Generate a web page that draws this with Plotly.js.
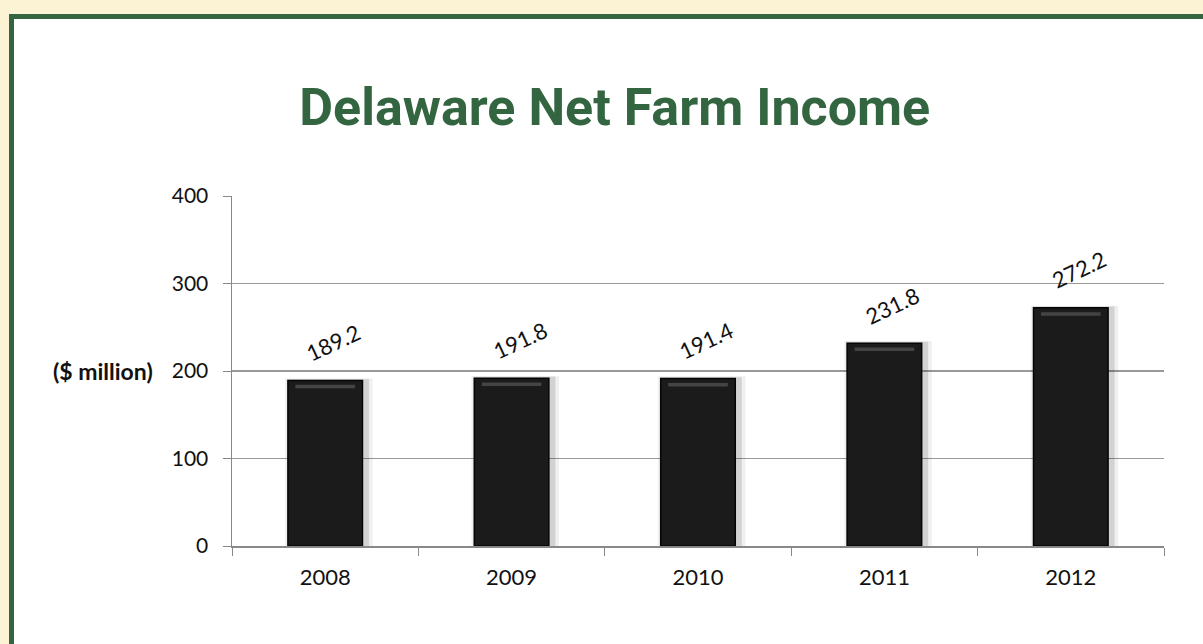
<!DOCTYPE html>
<html><head><meta charset="utf-8">
<script src="https://cdn.plot.ly/plotly-3.0.1.min.js"></script>
<style>
html,body{margin:0;padding:0;background:#fcf2d4;width:1203px;height:644px;overflow:hidden;}
#frame{position:absolute;left:9px;top:14px;width:1300px;height:700px;background:#fff;border-left:5px solid #336640;border-top:5px solid #336640;}
#chart{position:absolute;left:0;top:0;width:1203px;height:644px;}
</style></head>
<body>
<div id="frame"></div>
<div id="chart"></div>
<script>
const years = ['2008','2009','2010','2011','2012'];
const income = [189.2, 191.8, 191.4, 231.8, 272.2];
const yTicks = [0, 100, 200, 300, 400];

const font = 'Lato, "Open Sans", sans-serif';

const shadow1 = {type:'bar', x:years, y:income.map(v=>v+2.5), width:0.47, offset:-0.215,
  marker:{color:'rgba(0,0,0,0.06)'}, hoverinfo:'skip', showlegend:false};
const shadow2 = {type:'bar', x:years, y:income.map(v=>v+1.5), width:0.44, offset:-0.205,
  marker:{color:'rgba(0,0,0,0.12)'}, hoverinfo:'skip', showlegend:false};
const bars = {type:'bar', x:years, y:income, width:0.40,
  marker:{color:'#1b1b1b', line:{color:'#050505', width:1.5}}, showlegend:false};
const bevel = {type:'bar', x:years, y:income.map(()=>4), base:income.map(v=>v-9), width:0.32,
  marker:{color:'#444'}, hoverinfo:'skip', showlegend:false};

const annotations = years.map((yr,i)=>({
  x: i, y: income[i], xref:'x', yref:'y', text: income[i].toFixed(1),
  showarrow:false, textangle:-25, xshift:8, yshift:38,
  font:{family:font, size:22, color:'#111'}
}));
annotations.push({
  xref:'paper', yref:'y', x:-0.083, y:200, xanchor:'right', yanchor:'middle',
  text:'<b>($ million)</b>', showarrow:false, font:{family:font, size:23, color:'#111'}
});

const layout = {
  width:1203, height:644,
  margin:{l:232, r:39, t:196, b:98, pad:0},
  paper_bgcolor:'rgba(0,0,0,0)', plot_bgcolor:'rgba(0,0,0,0)',
  barmode:'overlay',
  title:{text:'<b>Delaware Net Farm Income</b>', x:0.511, xanchor:'center', y:0.834, yanchor:'middle',
    font:{family:'Roboto, sans-serif', size:52, color:'#336640'}},
  xaxis:{type:'category', range:[-0.5, years.length-0.5], tickson:'boundaries', ticks:'outside', ticklen:8, tickcolor:'#888',
    showline:true, linecolor:'#888', linewidth:1.5, showgrid:false, tickangle:0,
    tickfont:{family:font, size:22, color:'#111'}, ticklabelstandoff:11, fixedrange:true},
  yaxis:{range:[0,400], tickvals:yTicks, ticks:'outside', ticklen:8, tickcolor:'#888',
    showline:true, linecolor:'#888', linewidth:1.5, showgrid:true, gridcolor:'#999', gridwidth:1.5,
    zeroline:false, tickfont:{family:font, size:21, color:'#111'}, ticklabelstandoff:10, fixedrange:true},
  annotations: annotations,
  showlegend:false
};

Plotly.newPlot('chart', [shadow1, shadow2, bars, bevel], layout, {displayModeBar:false, staticPlot:true});
</script>
</body></html>
